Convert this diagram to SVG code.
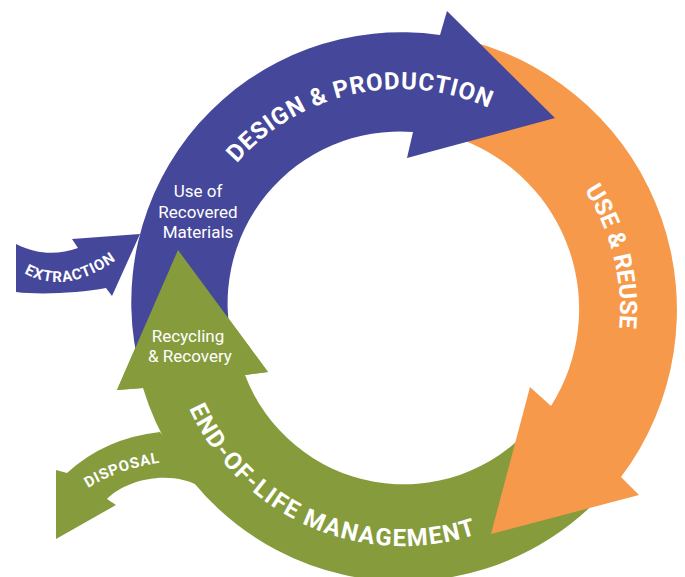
<svg xmlns="http://www.w3.org/2000/svg" width="685" height="577" viewBox="0 0 685 577">
<style>
.p{fill:#45479a}
.o{fill:#f7994b}
.g{fill:#869c3c}
.lbl{font-family:Roboto,"Liberation Sans",sans-serif;font-weight:700;fill:#ffffff}
.big{font-size:24px}
.sm{font-size:15px;letter-spacing:0.8px}
.note{font-family:Roboto,"Liberation Sans",sans-serif;font-size:17px;fill:#ffffff;text-anchor:middle}
</style>
<defs>
<path id="tp-design" d="M 237,163.3 A 216 216 0 0 1 508,118"/>
<path id="tp-use" d="M 584.5,190.2 A 220 220 0 0 1 616.7,348.2"/>
<path id="tp-eol" d="M 189.1,408.5 A 235 235 0 0 0 502.3,524"/>
<path id="tp-ext" d="M 24,273 Q 66,296 116,260"/>
<path id="tp-disp" d="M 88,488 Q 120,468 165,462"/>
</defs>
<rect width="685" height="577" fill="#ffffff"/>

<g id="end-of-life">
<path class="g" d="M 143,388 A 272 272 0 0 0 605,492 L 532,426 A 170 170 0 0 1 245,375 L 268,372 L 178,250 L 117,390 Z"/>
</g>

<g id="use-reuse">
<path class="o" d="M 470,41 A 278 278 0 0 1 621,477 L 639,495 L 491,534 L 530,387 L 551,406 A 181 181 0 0 0 460,139 Z"/>
<text class="lbl big"><textPath href="#tp-use">USE &amp; REUSE</textPath></text>
</g>

<g id="design-production">
<path class="p" d="M 141,374 A 270 270 0 0 1 440,35 L 447,11 L 555,118 L 407,158 L 413,132 A 172 172 0 0 0 234,350 Z"/>
<text class="lbl big" letter-spacing="0.8"><textPath href="#tp-design">DESIGN &amp; PRODUCTION</textPath></text>
<text class="note"><tspan x="198" y="197">Use of</tspan><tspan x="198" y="217.5">Recovered</tspan><tspan x="198" y="238">Materials</tspan></text>
</g>

<g id="recycling-recovery">
<path class="g" d="M 178,250 L 268,372 L 245,375 L 143,388 L 117,390 Z"/>
<text class="note"><tspan x="188" y="341.5">Recycling</tspan><tspan x="190" y="361.5">&amp; Recovery</tspan></text>
</g>

<g id="eol-label">
<text class="lbl big" letter-spacing="1.4"><textPath href="#tp-eol">END-OF-LIFE MANAGEMENT</textPath></text>
</g>

<g id="connectors">
<g id="extraction">
<path class="p" d="M 16,244 C 40,256 60,254 78,248 L 72,239 L 140,234 L 112,296 L 106,288 C 80,293 40,295 16,292 Z"/>
<text class="lbl sm"><textPath href="#tp-ext">EXTRACTION</textPath></text>
</g>
<g id="disposal">
<path class="g" d="M 160,432 Q 105,438 67,473 L 56,470 L 56,539 L 116,505 L 107,499 C 125,480 170,468 203,488 Z"/>
<text class="lbl sm"><textPath href="#tp-disp">DISPOSAL</textPath></text>
</g>
</g>
</svg>
